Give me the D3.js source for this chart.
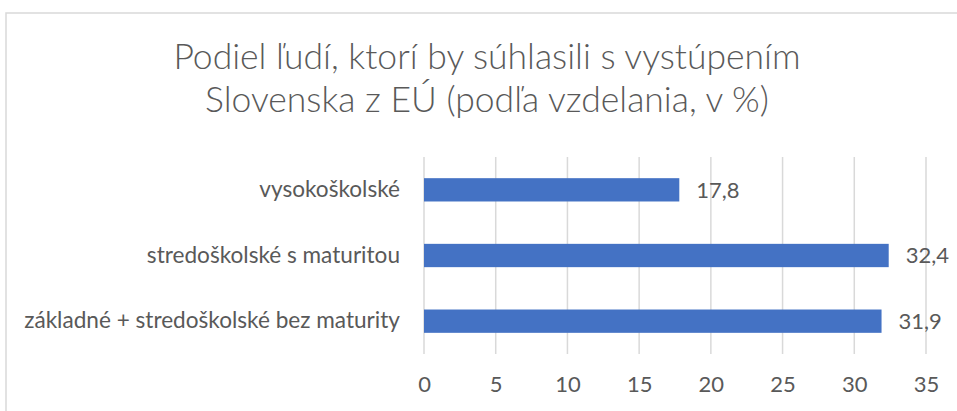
<!DOCTYPE html>
<html>
<head>
<meta charset="utf-8">
<script src="https://cdn.jsdelivr.net/npm/d3@7"></script>
<style>
  html, body { margin: 0; padding: 0; background: #fff; }
  svg { display: block; }
  text { font-family: Lato, "Open Sans", sans-serif; fill: #595959; }
</style>
</head>
<body>
<script>
const titleLines = ["Podiel ľudí, ktorí by súhlasili s vystúpením", "Slovenska z EÚ (podľa vzdelania, v %)"];
const categories = ["vysokoškolské", "stredoškolské s maturitou", "základné + stredoškolské bez maturity"];
const values = [17.8, 32.4, 31.9];
const valueLabels = ["17,8", "32,4", "31,9"];
const xTicks = [0, 5, 10, 15, 20, 25, 30, 35];

const W = 957, H = 411;
const svg = d3.select("body").append("svg").attr("width", W).attr("height", H);

// chart area border
svg.append("rect")
  .attr("x", 6).attr("y", 13)
  .attr("width", W + 20).attr("height", H + 20)
  .attr("fill", "#fff").attr("stroke", "#d9d9d9").attr("stroke-width", 1.5);

// title
svg.append("g").selectAll("text").data(titleLines).join("text")
  .attr("x", 487).attr("y", (d, i) => 69 + i * 43)
  .attr("text-anchor", "middle")
  .style("font-size", "35.5px")
  .style("font-weight", 300)
  .text(d => d);

const x = d3.scaleLinear().domain([0, 35]).range([424, 926]);
const y = d3.scaleBand().domain(categories).range([157, 354]).paddingInner(0.645).paddingOuter(0.3225);

// gridlines
svg.append("g").selectAll("line").data(xTicks).join("line")
  .attr("x1", d => x(d)).attr("x2", d => x(d))
  .attr("y1", 157).attr("y2", 354)
  .attr("stroke", "#d9d9d9").attr("stroke-width", 1.5);

// x axis labels
const xAxis = d3.axisBottom(x).tickValues(xTicks).tickSize(0).tickPadding(0);
const gx = svg.append("g").attr("transform", "translate(0,376)").call(xAxis);
gx.select(".domain").remove();
gx.selectAll("text").attr("dy", "0.71em").style("font-size", "22px").style("font-family", "Lato, sans-serif").attr("fill", "#595959");

// y axis labels
const yAxis = d3.axisLeft(y).tickSize(0).tickPadding(24);
const gy = svg.append("g").attr("transform", `translate(${x(0)},0)`).call(yAxis);
gy.select(".domain").remove();
gy.selectAll("text").style("font-size", "22.6px").style("font-family", "Lato, sans-serif").attr("fill", "#595959");

// bars
svg.append("g").selectAll("rect").data(values).join("rect")
  .attr("x", x(0))
  .attr("y", (d, i) => y(categories[i]))
  .attr("width", d => x(d) - x(0))
  .attr("height", y.bandwidth())
  .attr("fill", "#4472C4");

// value labels
svg.append("g").selectAll("text").data(values).join("text")
  .attr("x", d => x(d) + 17)
  .attr("y", (d, i) => y(categories[i]) + y.bandwidth() / 2)
  .attr("dy", "0.35em")
  .style("font-size", "22px")
  .text((d, i) => valueLabels[i]);
</script>
</body>
</html>
